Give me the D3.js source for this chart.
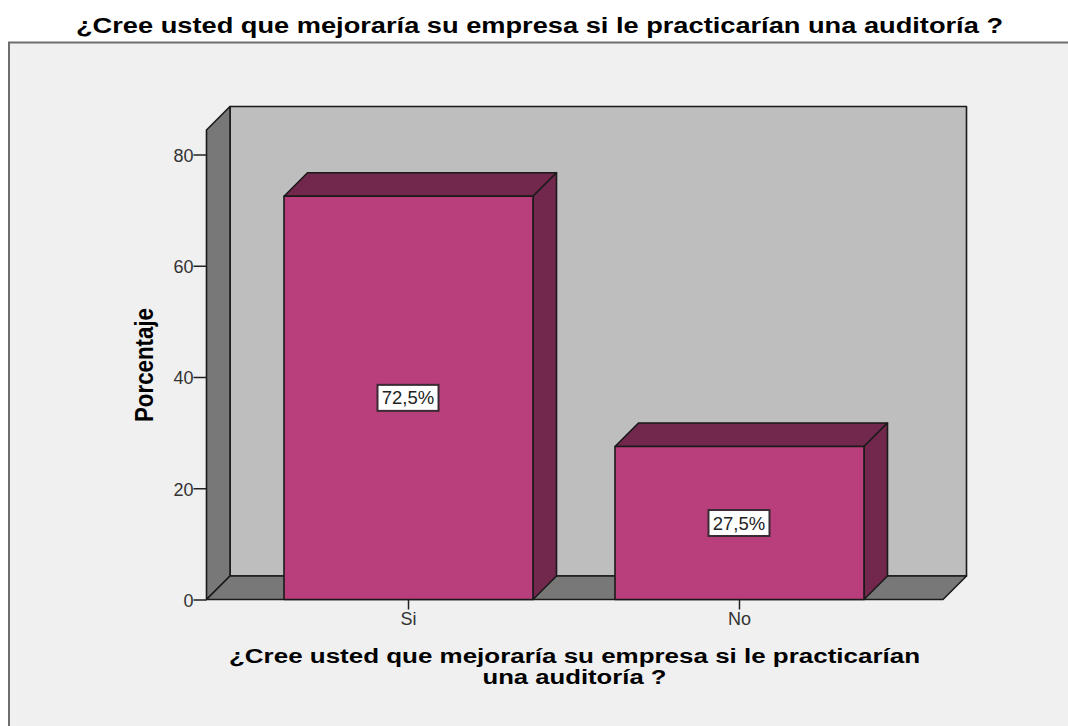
<!DOCTYPE html>
<html>
<head>
<meta charset="utf-8">
<script src="https://d3js.org/d3.v7.min.js"></script>
<style>
html, body { margin:0; padding:0; background:#fff; }
svg { display:block; }
text { font-family:"Liberation Sans", sans-serif; }
</style>
</head>
<body>
<div id="chart-area"></div>
<script>
// Data
var categories = ["Si", "No"];
var percentages = [72.5, 27.5];
var yTicks = [0, 20, 40, 60, 80];
var barLabels = ["72,5%", "27,5%"];
var chartTitle = "¿Cree usted que mejoraría su empresa si le practicarían una auditoría ?";
var xTitleLines = ["¿Cree usted que mejoraría su empresa si le practicarían", "una auditoría ?"];
var yTitle = "Porcentaje";

var width = 1068, height = 726;
var depth = 23.5;
var line = "#1a1a1a";

var svg = d3.select("#chart-area").append("svg")
    .attr("width", width)
    .attr("height", height);

// Scales
var x = d3.scaleBand().domain(categories).range([243, 905]).paddingInner(0.2477).paddingOuter(0.1239);
var y = d3.scaleLinear().domain([0, 80]).range([599.5, 154.5]);

var left = 206.5, right = 943, top3d = 130; // top edge of the side wall

// Title
svg.append("text")
    .attr("x", 76).attr("y", 33)
    .attr("textLength", 927)
    .attr("lengthAdjust", "spacingAndGlyphs")
    .attr("font-size", "22px")
    .attr("font-weight", "bold")
    .attr("fill", "#000")
    .text(chartTitle);

// Chart frame
svg.append("rect")
    .attr("x", 9).attr("y", 42.5)
    .attr("width", width + 20).attr("height", height)
    .attr("fill", "#f0f0f0")
    .attr("stroke", "#6e6e6e")
    .attr("stroke-width", 2);

function poly(points, fill) {
    svg.append("path")
        .attr("d", "M" + points.map(function(p) { return p.join(","); }).join("L") + "Z")
        .attr("fill", fill)
        .attr("stroke", line)
        .attr("stroke-width", 1.6)
        .attr("stroke-linejoin", "round");
}

// 3D walls
var y0 = y(0);
poly([[left + depth, top3d - depth], [right + depth, top3d - depth], [right + depth, y0 - depth], [left + depth, y0 - depth]], "#bebebe");
poly([[left, top3d], [left + depth, top3d - depth], [left + depth, y0 - depth], [left, y0]], "#787878");
poly([[left, y0], [left + depth, y0 - depth], [right + depth, y0 - depth], [right, y0]], "#787878");

// Bars
categories.forEach(function(c, i) {
    var x0 = x(c), x1 = x0 + x.bandwidth(), yv = y(percentages[i]);
    poly([[x0, yv], [x0 + depth, yv - depth], [x1 + depth, yv - depth], [x1, yv]], "#72274d");
    poly([[x1, yv], [x1 + depth, yv - depth], [x1 + depth, y0 - depth], [x1, y0]], "#72274d");
    poly([[x0, yv], [x1, yv], [x1, y0], [x0, y0]], "#b93e7c");

    // Value label box
    var cy = (yv + y0) / 2;
    var cx = x0 + x.bandwidth() / 2 - 0.5;
    svg.append("rect")
        .attr("x", cx - 30.5).attr("y", cy - 13)
        .attr("width", 61).attr("height", 26)
        .attr("fill", "#fff")
        .attr("stroke", "#3a2a33")
        .attr("stroke-width", 2);
    svg.append("text")
        .attr("x", cx).attr("y", cy + 6.5)
        .attr("text-anchor", "middle")
        .attr("font-size", "18.5px")
        .attr("fill", "#222")
        .text(barLabels[i]);
});

// Axes
var yAxisCall = d3.axisLeft(y).tickValues(yTicks).tickSize(13).tickSizeOuter(0).tickPadding(0);
var yAxis = svg.append("g").attr("transform", "translate(" + left + ",0)").call(yAxisCall);
yAxis.select(".domain").remove();
yAxis.selectAll("text").attr("font-size", "18px").attr("font-family", "Liberation Sans").attr("fill", "#333").attr("dy", "0.38em");
yAxis.selectAll("line").attr("stroke", "#222").attr("stroke-width", 1.5);

var xAxisCall = d3.axisBottom(x).tickSize(10).tickSizeOuter(0).tickPadding(3);
var xAxis = svg.append("g").attr("transform", "translate(0," + y0 + ")").call(xAxisCall);
xAxis.select(".domain").remove();
xAxis.selectAll("text").attr("font-size", "18px").attr("font-family", "Liberation Sans").attr("fill", "#333");
xAxis.selectAll("line").attr("stroke", "#222").attr("stroke-width", 1.5);

// Axis titles
svg.append("text")
    .attr("transform", "translate(152.5,308) rotate(-90)")
    .attr("x", -114)
    .attr("textLength", 114)
    .attr("lengthAdjust", "spacingAndGlyphs")
    .attr("font-size", "26px")
    .attr("font-weight", "bold")
    .attr("fill", "#000")
    .text(yTitle);

var xTitleWidths = [691, 184];
xTitleLines.forEach(function(t, i) {
    svg.append("text")
        .attr("x", 574.5 - xTitleWidths[i] / 2).attr("y", 663 + i * 20.5)
        .attr("textLength", xTitleWidths[i])
        .attr("lengthAdjust", "spacingAndGlyphs")
        .attr("font-size", "20px")
        .attr("font-weight", "bold")
        .attr("fill", "#000")
        .text(t);
});
</script>
</body>
</html>
